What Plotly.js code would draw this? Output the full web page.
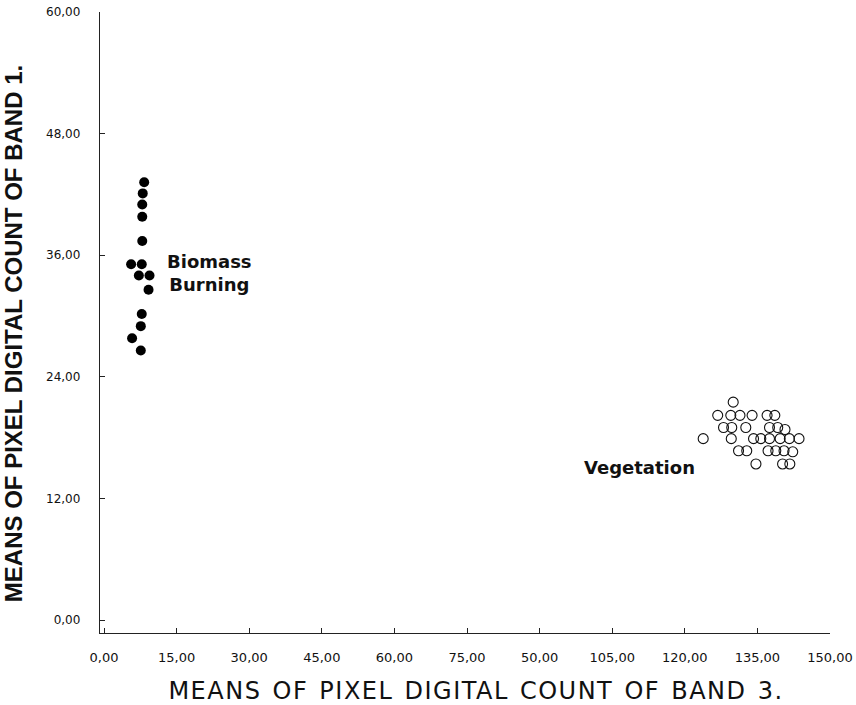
<!DOCTYPE html>
<html>
<head>
<meta charset="utf-8">
<script src="https://cdn.plot.ly/plotly-3.0.1.min.js"></script>
<style>
  html, body { margin: 0; padding: 0; background: #fff; }
  #chart { width: 856px; height: 705px; }
</style>
</head>
<body>
<div id="chart"></div>
<script>
// ---- Data ----
var biomassX = [8.3, 8.0, 7.9, 7.9, 7.9, 5.6, 7.8, 7.2, 9.4, 9.2, 7.8, 7.6, 5.8, 7.6];
var biomassY = [43.2, 42.1, 41.0, 39.8, 37.4, 35.1, 35.1, 34.0, 34.0, 32.6, 30.2, 29.0, 27.8, 26.6];

var vegetationX = [130.0,
  126.8, 129.5, 131.4, 133.9, 137.0, 138.6,
  128.0, 129.7, 132.6, 137.5, 139.2, 140.7,
  123.8, 129.6, 134.2, 135.7, 137.5, 139.7, 141.6, 143.6,
  131.1, 132.8, 137.2, 138.8, 140.5, 142.3,
  134.7, 140.2, 141.7];
var vegetationY = [21.5,
  20.2, 20.2, 20.2, 20.2, 20.2, 20.2,
  19.0, 19.0, 19.0, 19.0, 19.0, 18.8,
  17.9, 17.9, 17.9, 17.9, 17.9, 17.9, 17.9, 17.9,
  16.7, 16.7, 16.7, 16.7, 16.7, 16.6,
  15.4, 15.4, 15.4];

var xTickVals = [0, 15, 30, 45, 60, 75, 90, 105, 120, 135, 150];
var xTickText = ["0,00", "15,00", "30,00", "45,00", "60,00", "75,00", "50,00", "105,00", "120,00", "135,00", "150,00"];
var yTickVals = [0, 12, 24, 36, 48, 60];
var yTickText = ["0,00", "12,00", "24,00", "36,00", "48,00", "60,00"];

var labelBiomass = "Biomass<br>Burning";
var labelVegetation = "Vegetation";
var xTitle = "MEANS OF PIXEL DIGITAL COUNT OF BAND 3.";
var yTitle = "MEANS OF PIXEL DIGITAL COUNT OF BAND 1.";

// ---- Traces ----
var traces = [
  {
    type: "scatter", mode: "markers", name: "Biomass Burning",
    x: biomassX, y: biomassY,
    marker: { symbol: "circle", size: 10, color: "#000" },
    cliponaxis: false
  },
  {
    type: "scatter", mode: "markers", name: "Vegetation",
    x: vegetationX, y: vegetationY,
    marker: { symbol: "circle-open", size: 10, color: "#111", line: { width: 1.1 } },
    cliponaxis: false
  }
];

var layout = {
  width: 856, height: 705,
  paper_bgcolor: "#fff", plot_bgcolor: "#fff",
  showlegend: false,
  margin: { l: 100, r: 26, t: 12, b: 72, pad: 0 },
  xaxis: {
    range: [-0.83, 150], showgrid: false, zeroline: false,
    showline: true, linecolor: "#222", linewidth: 1.2,
    tickmode: "array", tickvals: xTickVals, ticktext: xTickText,
    ticks: "inside", ticklen: 5, tickwidth: 1, tickcolor: "#222",
    tickfont: { family: "DejaVu Sans", size: 13, color: "#111" }, ticklabelstandoff: 12,
    title: { text: xTitle, font: { family: "DejaVu Sans", size: 24, color: "#111" }, standoff: 16 }
  },
  yaxis: {
    range: [-1.28, 60], showgrid: false, zeroline: false,
    showline: true, linecolor: "#222", linewidth: 1.2,
    tickmode: "array", tickvals: yTickVals, ticktext: yTickText,
    ticks: "inside", ticklen: 5, tickwidth: 1, tickcolor: "#222",
    tickfont: { family: "DejaVu Sans", size: 12, color: "#111" }, ticklabelstandoff: 16,
    title: { text: yTitle, font: { family: "Liberation Sans", size: 24, color: "#111", weight: "bold" }, standoff: 26 }
  },
  annotations: [
    {
      x: 21.7, y: 34.2, xref: "x", yref: "y", text: labelBiomass, showarrow: false,
      xanchor: "center", yanchor: "middle", align: "center",
      font: { family: "DejaVu Sans", size: 18, color: "#111", weight: "bold" }
    },
    {
      x: 110.6, y: 15.1, xref: "x", yref: "y", text: labelVegetation, showarrow: false,
      xanchor: "center", yanchor: "middle",
      font: { family: "DejaVu Sans", size: 18, color: "#111", weight: "bold" }
    }
  ]
};

Plotly.newPlot("chart", traces, layout, { staticPlot: true, displayModeBar: false }).then(function (gd) {
  // Lettering of the original titles is spaced and sits slightly off the axis centre.
  var xt = gd.querySelector(".xtitle");
  if (xt) {
    xt.style.letterSpacing = "1.5px";
    xt.style.wordSpacing = "2px";
    xt.setAttribute("transform", "translate(11,2)");
  }
  var yt = gd.querySelector(".ytitle");
  if (yt) {
    var tr = yt.getAttribute("transform") || "";
    yt.setAttribute("transform", "translate(0,11) " + tr);
  }
});
</script>
</body>
</html>
